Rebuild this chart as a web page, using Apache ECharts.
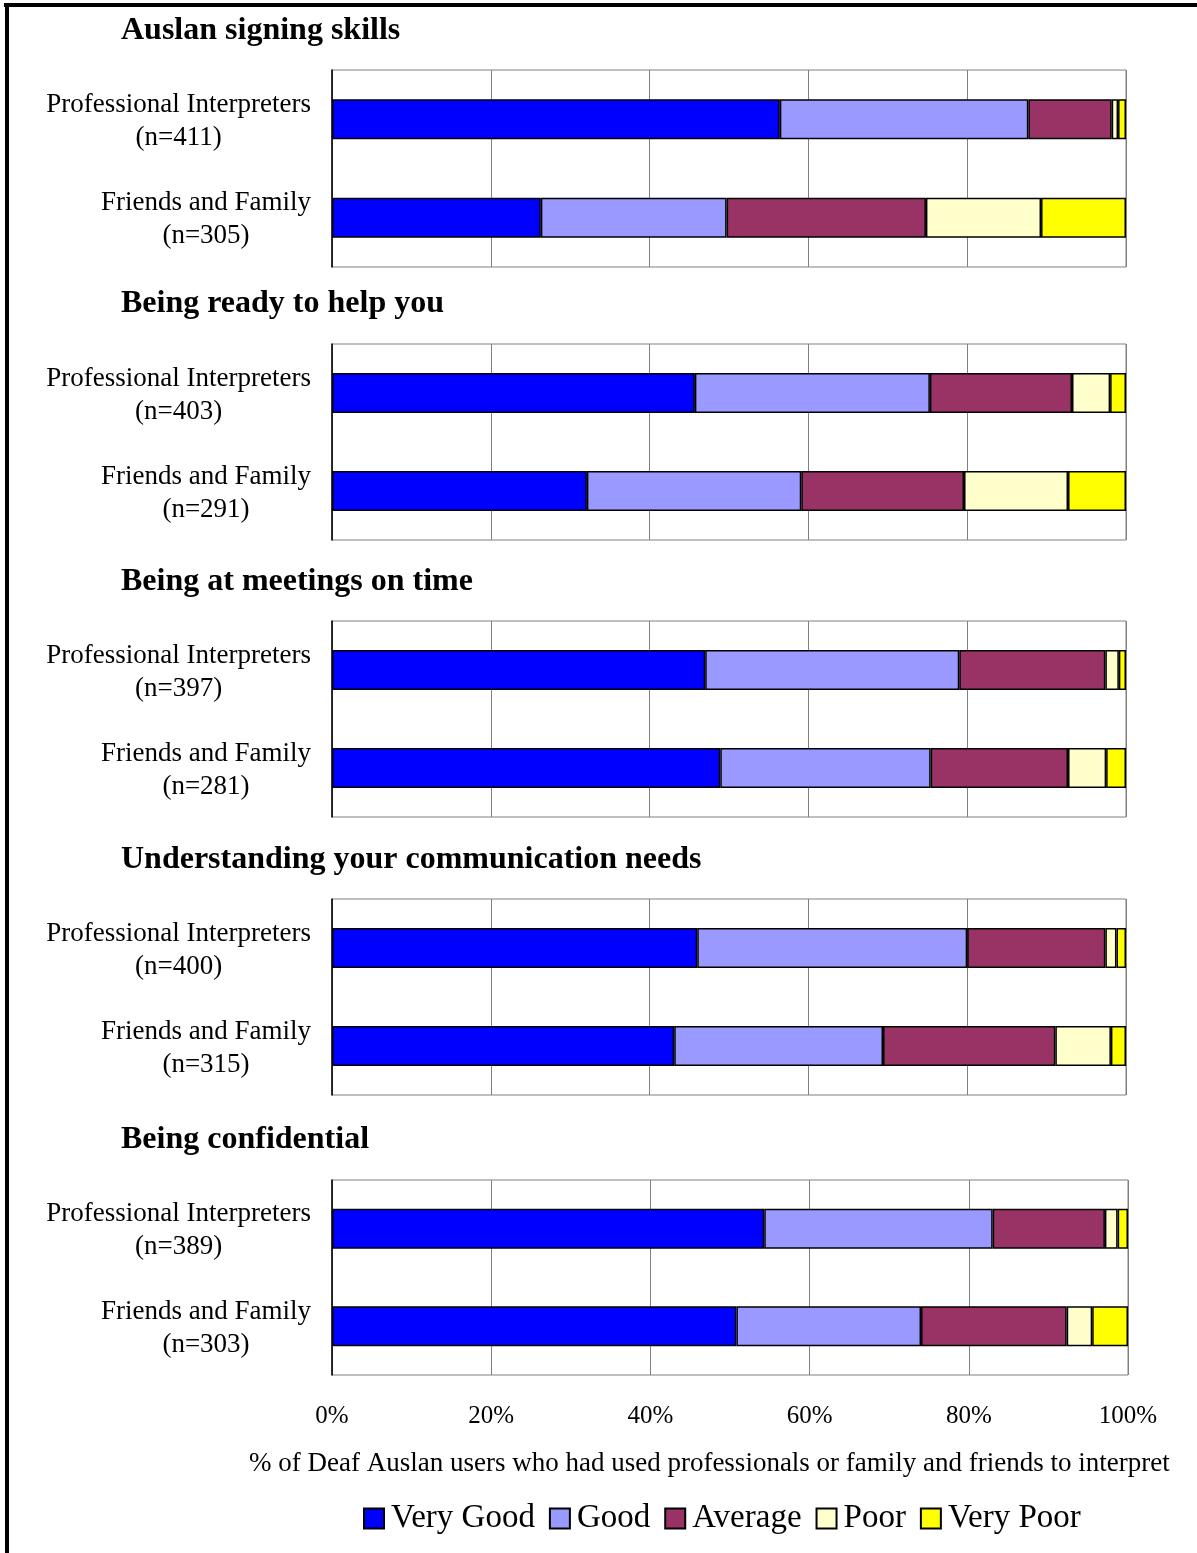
<!DOCTYPE html>
<html>
<head>
<meta charset="utf-8">
<script src="https://cdn.jsdelivr.net/npm/echarts@6/dist/echarts.min.js"></script>
<style>
html,body{margin:0;padding:0;background:#fff;}
#chart{width:1197px;height:1553px;}
</style>
</head>
<body>
<div id="chart"></div>
<script>
// ---------- DATA ----------
const panelTitles = [
  'Auslan signing skills',
  'Being ready to help you',
  'Being at meetings on time',
  'Understanding your communication needs',
  'Being confidential'
];
const groupNames = ['Professional Interpreters', 'Friends and Family'];
const sampleSizes = [[411, 305], [403, 291], [397, 281], [400, 315], [389, 303]];
const ratingNames = ['Very Good', 'Good', 'Average', 'Poor', 'Very Poor'];
// percentages per panel: [Professional Interpreters, Friends and Family]
const veryGood = [[56.4, 26.3], [45.7, 32.1], [47.0, 48.9], [46.0, 43.1], [54.3, 50.8]];
const good     = [[31.3, 23.4], [29.6, 27.0], [32.0, 26.5], [34.0, 26.3], [28.7, 23.2]];
const average  = [[10.5, 25.1], [17.9, 20.5], [18.4, 17.3], [17.4, 21.7], [14.1, 18.3]];
const poor     = [[0.8, 14.5], [4.8, 13.1], [1.7, 4.8], [1.4, 7.0], [1.6, 3.2]];
const veryPoor = [[1.0, 10.7], [2.0, 7.3], [0.9, 2.5], [1.2, 1.9], [1.3, 4.5]];
const xTicks = [0, 20, 40, 60, 80, 100];
const xAxisTitle = '% of Deaf Auslan users who had used professionals or family and friends to interpret';

// ---------- STYLE / LAYOUT ----------
const ratingValues = [veryGood, good, average, poor, veryPoor];
const ratingColors = ['#0000FF', '#9999FF', '#993366', '#FFFFCC', '#FFFF00'];
const FONT = "'Liberation Serif', 'Times New Roman', serif";
const gridTops = [70, 344, 621, 899, 1180];
const gridHeights = [197, 196, 196, 196, 195];
const gridWidths = [794, 794, 794, 794, 796];
const titleTops = [15, 288, 566, 844, 1124];

const grids = [], xAxes = [], yAxes = [], series = [], titles = [];
panelTitles.forEach((t, p) => {
  titles.push({
    text: t, left: 121, top: titleTops[p], padding: 0,
    textStyle: { fontFamily: FONT, fontSize: 32, fontWeight: 'bold', color: '#000' }
  });
  grids.push({
    left: 332, top: gridTops[p], width: gridWidths[p], height: gridHeights[p],
    show: true, borderColor: '#808080', borderWidth: 1, backgroundColor: '#fff'
  });
  const last = p === panelTitles.length - 1;
  xAxes.push({
    type: 'value', gridIndex: p, min: xTicks[0], max: xTicks[xTicks.length - 1], interval: 20,
    axisLine: { show: false }, axisTick: { show: false },
    splitLine: { show: true, lineStyle: { color: '#808080', width: 1 } },
    axisLabel: {
      show: last, formatter: '{value}%', margin: 29,
      fontFamily: FONT, fontSize: 25, color: '#000'
    }
  });
  yAxes.push({
    type: 'category', gridIndex: p, inverse: true,
    data: groupNames.map((g, i) => g + '\n(n=' + sampleSizes[p][i] + ')'),
    axisLine: { show: true, lineStyle: { color: '#000', width: 1.5 } },
    axisTick: { show: false },
    axisLabel: {
      interval: 0, align: 'right', margin: 21, padding: [4, 0, 0, 0],
      formatter: v => v.split('\n').map(l => '{c|' + l + '}').join('\n'),
      rich: { c: { align: 'center', fontFamily: FONT, fontSize: 27, lineHeight: 33, color: '#000' } },
      fontFamily: FONT, fontSize: 27, lineHeight: 33, color: '#000'
    }
  });
  ratingNames.forEach((r, k) => {
    series.push({
      name: r, type: 'bar', stack: 'panel' + p,
      xAxisIndex: p, yAxisIndex: p,
      barWidth: 40,
      itemStyle: { color: ratingColors[k], borderColor: '#000', borderWidth: 1.5 },
      emphasis: { disabled: true },
      data: ratingValues[k][p]
    });
  });
});

titles.push({
  text: xAxisTitle, left: 249, top: 1450, padding: 0,
  textStyle: { fontFamily: FONT, fontSize: 27, fontWeight: 'normal', color: '#000' }
});

const option = {
  animation: false,
  backgroundColor: '#fff',
  title: titles,
  grid: grids,
  xAxis: xAxes,
  yAxis: yAxes,
  legend: {
    data: ratingNames, left: 363, top: 1502, padding: 0,
    itemWidth: 20, itemHeight: 20, itemGap: 14, icon: 'rect',
    textStyle: { fontFamily: FONT, fontSize: 33, color: '#000', padding: [0, 0, 0, 2] }
  },
  graphic: [
    { type: 'rect', shape: { x: 4, y: 3, width: 1193, height: 4 }, style: { fill: '#000' }, silent: true },
    { type: 'rect', shape: { x: 5, y: 3, width: 4, height: 1550 }, style: { fill: '#000' }, silent: true }
  ],
  series: series
};

const chart = echarts.init(document.getElementById('chart'));
chart.setOption(option);
</script>
</body>
</html>
